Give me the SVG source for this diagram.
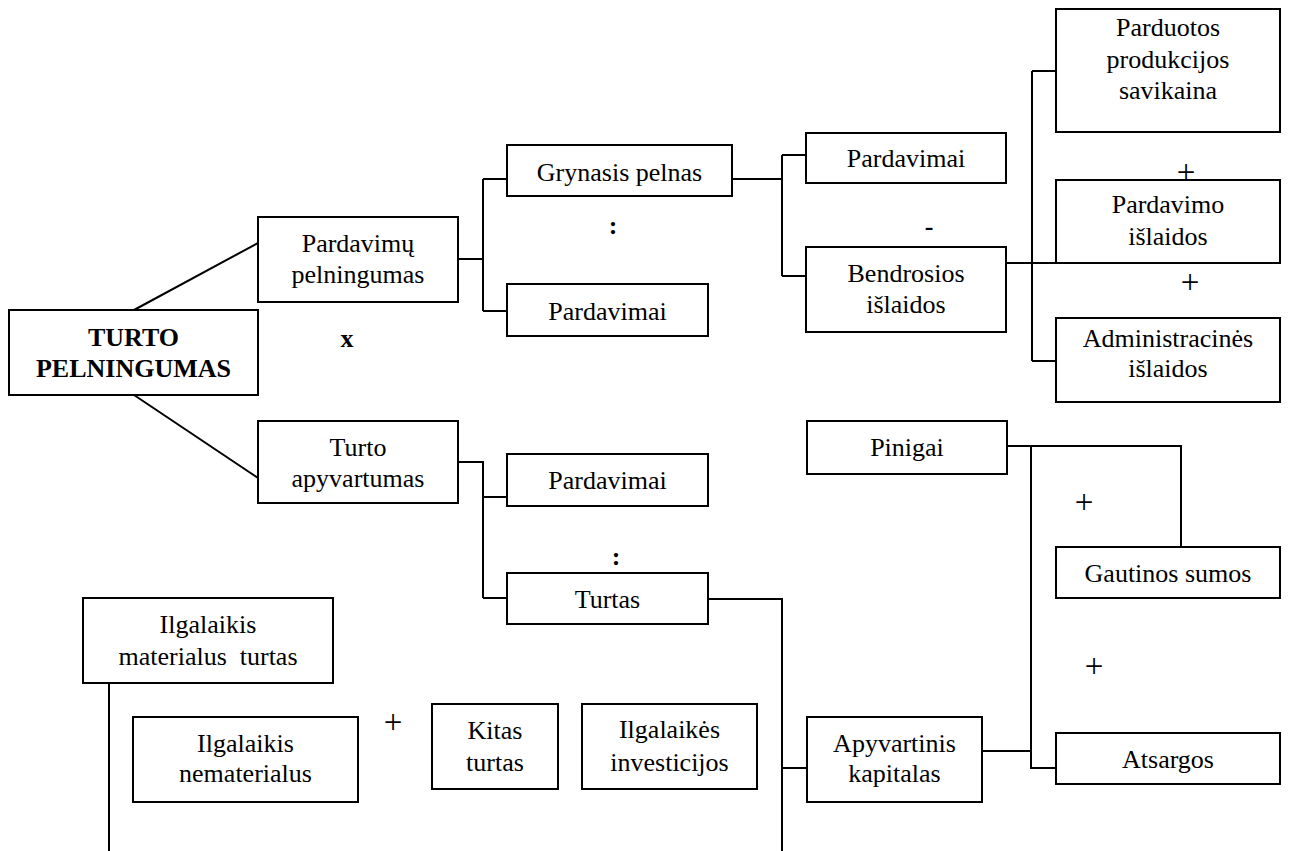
<svg xmlns="http://www.w3.org/2000/svg" width="1291" height="851" viewBox="0 0 1291 851">
<style>
.box{fill:#fff;stroke:#000;stroke-width:2}
.t{font-family:"Liberation Serif","Times New Roman","DejaVu Serif",serif;font-size:26px;fill:#000;text-anchor:middle}
.b{font-weight:bold}
.p{font-size:33px}
.c{fill:none;stroke:#000;stroke-width:2}
</style>
<rect width="1291" height="851" fill="#fff"/>
<g id="connectors">
<path class="c" d="M134,310 L258,243"/>
<path class="c" d="M134,395 L258,478"/>
<path class="c" d="M458,259 H483 M483,179 V311 M483,179 H507 M483,311 H507"/>
<path class="c" d="M732,179 H782 M782,155 V276 M782,155 H806 M782,276 H806"/>
<path class="c" d="M1006,263 H1056 M1032,71 V361 M1032,71 H1056 M1032,361 H1056"/>
<path class="c" d="M458,462 H483 V598 M483,497 H507 M483,598 H507"/>
<path class="c" d="M708,599 H782 V851 M782,768 H807"/>
<path class="c" d="M982,751 H1031 M1031,446 V768 H1056 M1007,446 H1181 V547"/>
<path class="c" d="M109,683 V851"/>
</g>
<g id="turto-pelningumas"><rect class="box" x="9" y="310" width="249" height="85"/><text class="t b" x="133.5" y="346">TURTO</text><text class="t b" x="133.5" y="377">PELNINGUMAS</text></g>
<g id="pardavimu-pelningumas"><rect class="box" x="258" y="217" width="200" height="85"/><text class="t" x="358" y="252">Pardavimų</text><text class="t" x="358" y="283">pelningumas</text></g>
<g id="turto-apyvartumas"><rect class="box" x="258" y="421" width="200" height="82"/><text class="t" x="358" y="456">Turto</text><text class="t" x="358" y="487">apyvartumas</text></g>
<g id="grynasis-pelnas"><rect class="box" x="507" y="145" width="225" height="51"/><text class="t" x="619.5" y="181">Grynasis pelnas</text></g>
<g id="pardavimai-1"><rect class="box" x="507" y="284" width="201" height="52"/><text class="t" x="607.5" y="320">Pardavimai</text></g>
<g id="pardavimai-2"><rect class="box" x="806" y="133" width="200" height="50"/><text class="t" x="906" y="167">Pardavimai</text></g>
<g id="bendrosios-islaidos"><rect class="box" x="806" y="247" width="200" height="85"/><text class="t" x="906" y="282">Bendrosios</text><text class="t" x="906" y="313">išlaidos</text></g>
<g id="parduotos-produkcijos-savikaina"><rect class="box" x="1056" y="9" width="224" height="123"/><text class="t" x="1168" y="36">Parduotos</text><text class="t" x="1168" y="68">produkcijos</text><text class="t" x="1168" y="99">savikaina</text></g>
<g id="pardavimo-islaidos"><rect class="box" x="1056" y="180" width="224" height="83"/><text class="t" x="1168" y="213">Pardavimo</text><text class="t" x="1168" y="245">išlaidos</text></g>
<g id="administracines-islaidos"><rect class="box" x="1056" y="318" width="224" height="84"/><text class="t" x="1168" y="347">Administracinės</text><text class="t" x="1168" y="377">išlaidos</text></g>
<g id="pardavimai-3"><rect class="box" x="507" y="454" width="201" height="52"/><text class="t" x="607.5" y="489">Pardavimai</text></g>
<g id="turtas"><rect class="box" x="507" y="573" width="201" height="51"/><text class="t" x="607.5" y="608">Turtas</text></g>
<g id="pinigai"><rect class="box" x="807" y="421" width="200" height="53"/><text class="t" x="907" y="456">Pinigai</text></g>
<g id="gautinos-sumos"><rect class="box" x="1056" y="547" width="224" height="51"/><text class="t" x="1168" y="582">Gautinos sumos</text></g>
<g id="atsargos"><rect class="box" x="1056" y="733" width="224" height="51"/><text class="t" x="1168" y="768">Atsargos</text></g>
<g id="apyvartinis-kapitalas"><rect class="box" x="807" y="717" width="175" height="85"/><text class="t" x="894.5" y="752">Apyvartinis</text><text class="t" x="894.5" y="782">kapitalas</text></g>
<g id="ilgalaikis-materialus-turtas"><rect class="box" x="83" y="598" width="250" height="85"/><text class="t" x="208" y="633">Ilgalaikis</text><text class="t" x="208" y="665" xml:space="preserve">materialus  turtas</text></g>
<g id="ilgalaikis-nematerialus"><rect class="box" x="133" y="717" width="225" height="85"/><text class="t" x="245.5" y="752">Ilgalaikis</text><text class="t" x="245.5" y="782">nematerialus</text></g>
<g id="kitas-turtas"><rect class="box" x="432" y="704" width="126" height="85"/><text class="t" x="495" y="739">Kitas</text><text class="t" x="495" y="771">turtas</text></g>
<g id="ilgalaikes-investicijos"><rect class="box" x="582" y="704" width="175" height="85"/><text class="t" x="669.5" y="738">Ilgalaikės</text><text class="t" x="669.5" y="771">investicijos</text></g>
<g id="operators">
<text class="t b" x="347" y="347">x</text>
<text class="t b" x="613" y="234">:</text>
<text class="t b" x="929" y="235">-</text>
<text class="t b" x="616" y="565">:</text>
<text class="t p" x="1186" y="183">+</text>
<text class="t p" x="1190" y="293">+</text>
<text class="t p" x="1084" y="513">+</text>
<text class="t p" x="1094" y="677">+</text>
<text class="t p" x="393" y="733">+</text>
</g>
</svg>
